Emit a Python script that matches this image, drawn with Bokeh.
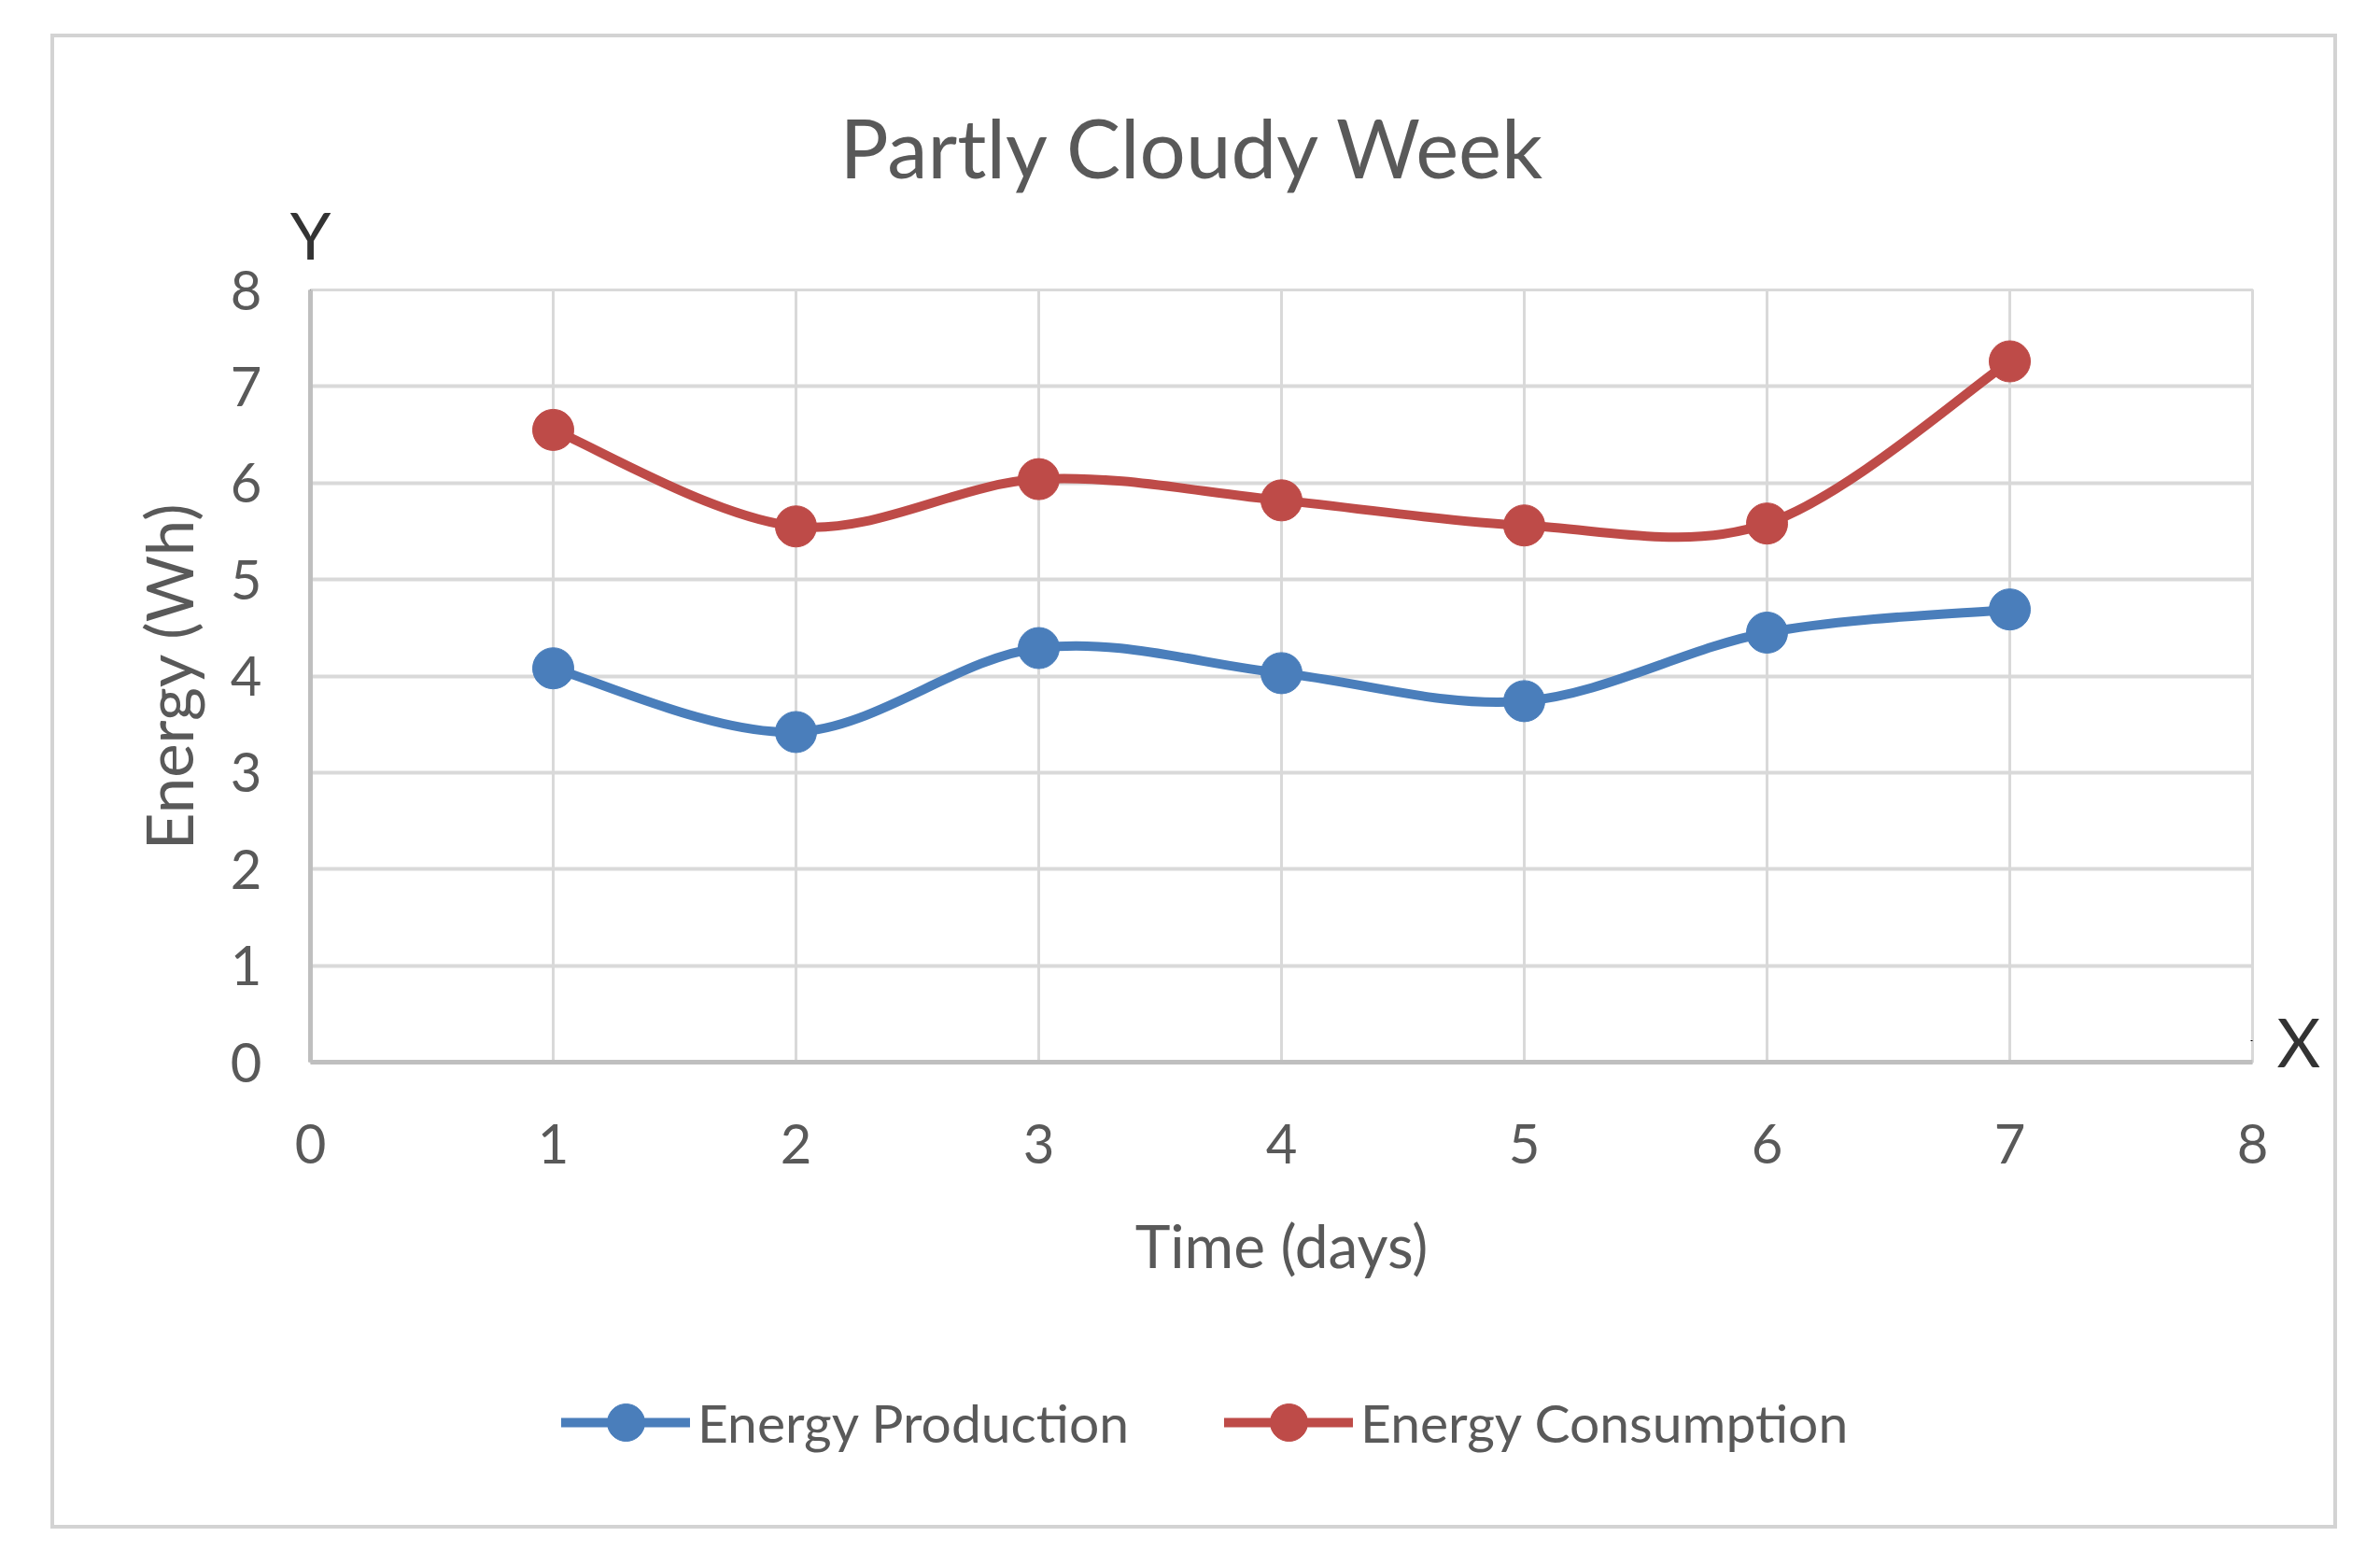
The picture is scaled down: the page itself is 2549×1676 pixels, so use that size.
import numpy as np
from bokeh.plotting import figure
from bokeh.layouts import column
from bokeh.models import (Range1d, FixedTicker, Legend, LegendItem, Title,
                          LinearAxis, ColumnDataSource)
from bokeh.embed import file_html
from bokeh.resources import INLINE

# ---- data ----
days = [1, 2, 3, 4, 5, 6, 7]
production = [4.08, 3.42, 4.29, 4.03, 3.74, 4.45, 4.69]
consumption = [6.55, 5.55, 6.04, 5.82, 5.56, 5.58, 7.26]
x_ticks = [0, 1, 2, 3, 4, 5, 6, 7, 8]
y_ticks = [0, 1, 2, 3, 4, 5, 6, 7, 8]
series_names = ["Energy Production", "Energy Consumption"]
series_colors = ["#4A7EBB", "#BE4B48"]
chart_title = "Partly Cloudy Week"
x_title = "Time (days)"
y_title = "Energy (Wh)"
x_letter = "X"
y_letter = "Y"

FONT = "Lato"
TEXT = "#595959"
LETTER = "#333333"
LINE_W = 10
MARK = 44


def smooth_source(xs, ys):
    """Bezier control points (Excel-like smoothed line) from the data points."""
    x = np.asarray(xs, float)
    y = np.asarray(ys, float)
    n = len(x)
    xp = np.concatenate([[x[0]], x, [x[-1]]])
    yp = np.concatenate([[y[0]], y, [y[-1]]])
    return ColumnDataSource(dict(
        x0=x[:-1], y0=y[:-1], x1=x[1:], y1=y[1:],
        cx0=xp[1:n] + (xp[2:n + 1] - xp[0:n - 1]) / 6.0,
        cy0=yp[1:n] + (yp[2:n + 1] - yp[0:n - 1]) / 6.0,
        cx1=xp[2:n + 1] - (xp[3:n + 2] - xp[1:n]) / 6.0,
        cy1=yp[2:n + 1] - (yp[3:n + 2] - yp[1:n]) / 6.0,
    ))


# ---------------- main chart ----------------
p = figure(width=2441, height=1380, output_backend="svg", toolbar_location=None,
           title_location=None,
           x_range=Range1d(0, 8), y_range=Range1d(0, 8),
           min_border_left=274, min_border_right=87,
           min_border_top=270, min_border_bottom=283)
p.outline_line_color = "#D9D9D9"
p.outline_line_width = 3
p.background_fill_color = "white"
p.border_fill_color = "white"

p.xgrid.ticker = FixedTicker(ticks=x_ticks)
p.ygrid.ticker = FixedTicker(ticks=y_ticks)
p.xgrid.grid_line_color = "#D9D9D9"
p.xgrid.grid_line_width = 3
p.ygrid.grid_line_color = "#D9D9D9"
p.ygrid.grid_line_width = 4


def style_axis(ax, ticks):
    ax.ticker = FixedTicker(ticks=ticks)
    ax.major_tick_out = 0
    ax.major_tick_in = 0
    ax.minor_tick_out = 0
    ax.minor_tick_in = 0
    ax.axis_line_color = "#BFBFBF"
    ax.axis_line_width = 5
    ax.major_label_text_font = FONT
    ax.major_label_text_font_size = "58px"
    ax.major_label_text_color = TEXT
    ax.axis_label_text_font = FONT
    ax.axis_label_text_font_style = "normal"
    ax.axis_label_text_color = TEXT


style_axis(p.xaxis[0], x_ticks)
style_axis(p.yaxis[0], y_ticks)

p.xaxis.axis_label = x_title
p.xaxis.axis_label_text_font_size = "64px"
p.xaxis.major_label_standoff = 66
p.xaxis.axis_label_standoff = 46
p.yaxis.axis_label = y_title
p.yaxis.axis_label_text_font_size = "69px"
p.yaxis.major_label_standoff = 52
p.yaxis.axis_label_standoff = 22

# "Y" letter above the value axis, "X" letter right of the category axis
y_ax = LinearAxis(ticker=FixedTicker(ticks=[0]), major_label_overrides={0: y_letter})
y_ax.axis_line_color = None
y_ax.major_tick_out = 0
y_ax.minor_tick_out = 0
y_ax.major_label_standoff = 18
y_ax.major_label_text_font = FONT
y_ax.major_label_text_font_size = "70px"
y_ax.major_label_text_color = LETTER
p.add_layout(y_ax, "above")

x_ax = LinearAxis(ticker=FixedTicker(ticks=[0.22]), major_label_overrides={0.22: x_letter})
x_ax.axis_line_color = None
x_ax.major_tick_out = 0
x_ax.minor_tick_out = 0
x_ax.major_label_standoff = 26
x_ax.major_label_text_font = FONT
x_ax.major_label_text_font_size = "72px"
x_ax.major_label_text_color = LETTER
p.add_layout(x_ax, "right")

p.add_layout(Title(text=chart_title, align="left", offset=567, standoff=-8,
                   text_font=FONT, text_font_size="87px", text_font_style="normal",
                   text_color=TEXT), "above")

sources = []
for name, color, vals in zip(series_names, series_colors, [production, consumption]):
    src = smooth_source(days, vals)
    sources.append(src)
    p.bezier(x0="x0", y0="y0", x1="x1", y1="y1", cx0="cx0", cy0="cy0",
             cx1="cx1", cy1="cy1", source=src,
             line_color=color, line_width=LINE_W, line_cap="round")
    p.scatter(days, vals, marker="circle", size=MARK, fill_color=color,
              line_color=color)

# ---------------- legend strip (same chart box, below) ----------------
# The legend strip views a range that holds none of the series, so only the
# legend itself is visible there.
lg = figure(width=2441, height=213, output_backend="svg", toolbar_location=None,
            title_location=None, x_axis_type=None, y_axis_type=None,
            x_range=Range1d(-20, -10), y_range=Range1d(-20, -10),
            min_border=0, min_border_left=0, min_border_right=0,
            min_border_top=0, min_border_bottom=0)
lg.outline_line_color = None
lg.xgrid.visible = False
lg.ygrid.visible = False
lg.background_fill_color = "white"
lg.border_fill_color = "white"

items = []
for name, color, vals, src in zip(series_names, series_colors,
                                  [production, consumption], sources):
    bz = lg.bezier(x0="x0", y0="y0", x1="x1", y1="y1", cx0="cx0", cy0="cy0",
                   cx1="cx1", cy1="cy1", source=src, line_color=color,
                   line_width=LINE_W, line_cap="round")
    sc = lg.scatter(days, vals, marker="circle", size=MARK, fill_color=color,
                    line_color=color)
    items.append(LegendItem(label=name, renderers=[bz, sc]))

legend = Legend(items=items, location=(269, 60), orientation="horizontal",
                glyph_width=138, glyph_height=100, label_height=100,
                label_standoff=8, spacing=102, padding=0, margin=0,
                border_line_alpha=0, background_fill_alpha=0,
                label_text_font=FONT, label_text_font_size="57px",
                label_text_color=TEXT)
lg.add_layout(legend)

layout = column(p, lg, spacing=0)
layout.margin = (40, 0, 0, 58)
layout.styles = {"outline": "4px solid #D3D3D3", "outline-offset": "0px"}

open("out.html", "w").write(file_html(layout, INLINE))
